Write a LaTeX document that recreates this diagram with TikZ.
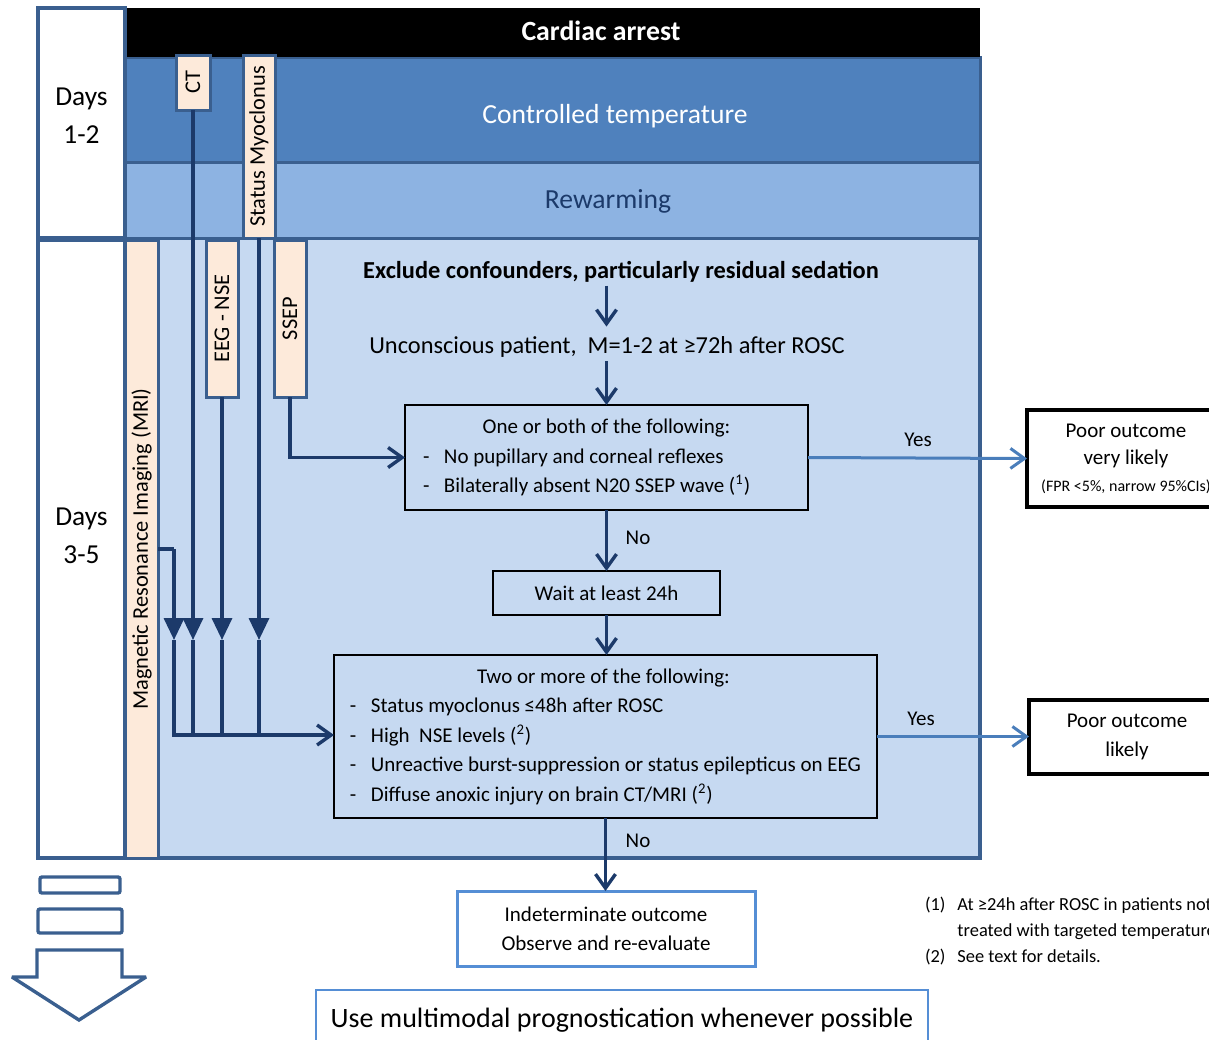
\documentclass[tikz,border=0pt]{standalone}
\usepackage{fontspec}
\setmainfont{Carlito}
\usetikzlibrary{arrows.meta}

\definecolor{frameblue}{RGB}{58,95,143}
\definecolor{ctrlblue}{RGB}{79,129,189}
\definecolor{rewarmblue}{RGB}{141,179,226}
\definecolor{paleblue}{RGB}{198,217,241}
\definecolor{peach}{RGB}{253,234,218}
\definecolor{navy}{RGB}{28,58,106}
\definecolor{yesblue}{RGB}{74,126,187}
\definecolor{lightframe}{RGB}{85,142,213}

\newcommand{\itemdash}{\makebox[10.5pt][l]{-}}

\begin{document}
\begin{tikzpicture}[x=0.5pt, y=-0.5pt]
\tikzset{ >={Straight Barb[length=7pt,width=10pt]}, inner sep=0pt, outer sep=0pt,
  stage/.style={draw=frameblue, line width=2pt},
  tag/.style={draw=frameblue, line width=1.5pt, fill=peach, font=\fontsize{11.2}{13}\selectfont},
  link/.style={navy, line width=1.7pt},
  flowbox/.style={draw=black, line width=0.8pt, font=\fontsize{10.5}{14.75}\selectfont},
  yes/.style={->, yesblue, line width=1.5pt},
  outcome/.style={draw=black, line width=2pt, fill=white, align=center},
  label/.style={font=\fontsize{10.5}{13}\selectfont},
}

\useasboundingbox (0,0) rectangle (1209,1039);
\clip (0,0) rectangle (1209,1039);

% bands and day columns
\draw [stage, fill=paleblue] (125,238) rectangle (980,858);
\draw [stage, fill=rewarmblue, line width=1.5pt] (125,162) rectangle (980,238);
\draw [stage, fill=ctrlblue, line width=1.5pt] (125,57) rectangle (980,162);
\fill [black] (125,8) rectangle (980,57);
\draw [stage, fill=white] (38,8) rectangle (125,238);
\draw [stage, fill=white] (38,240) rectangle (125,858);

\node [font=\fontsize{13.9}{16}\selectfont\bfseries, text=white] (Arrest) at (601,31) {Cardiac arrest};
\node [font=\fontsize{13.8}{16}\selectfont, text=white] (Temp) at (615,116) {Controlled temperature};
\node [font=\fontsize{13.8}{16}\selectfont, text=navy] (Rewarm) at (608,201) {Rewarming};
\node [align=center, font=\fontsize{13.7}{19}\selectfont] (Early) at (81.5,116) {Days\\1-2};
\node [align=center, font=\fontsize{13.7}{19}\selectfont] (Late) at (81.5,536) {Days\\3-5};

% tests
\node [tag, minimum width=17pt, minimum height=27.5pt] (CT) at (193,82.5) {\rotatebox{90}{CT}};
\node [tag, minimum width=16pt, minimum height=91.5pt] (Myo) at (259,146.5) {\rotatebox{90}{Status Myoclonus}};
\node [tag, minimum width=16.5pt, minimum height=309pt] (MRI) at (141.5,549) {\rotatebox{90}{Magnetic Resonance Imaging (MRI)}};
\node [tag, minimum width=16pt, minimum height=78.5pt] (EEG) at (222,318.5) {\rotatebox{90}{EEG - NSE}};
\node [tag, minimum width=16pt, minimum height=78.5pt] (SSEP) at (290,318.5) {\rotatebox{90}{SSEP}};

% algorithm
\node [font=\fontsize{12.2}{14}\selectfont\bfseries] (Excl) at (621,272) {Exclude confounders, particularly residual sedation};
\node [font=\fontsize{12.2}{15}\selectfont] (Uncon) at (607,347) {Unconscious patient,~ M=1-2 at ≥72h after ROSC};

\node [flowbox, minimum width=201.5pt, minimum height=52.5pt] (One) at (606.5,457.5)
  {\begin{tabular}{@{}l@{}}
   \makebox[183.5pt]{One or both of the following:}\\
   \itemdash No pupillary and corneal reflexes\\
   \itemdash Bilaterally absent N20 SSEP wave (\textsuperscript{1})
   \end{tabular}};
\node [flowbox, minimum width=113.5pt, minimum height=22pt] (Wait) at (606.5,593) {Wait at least 24h};
\node [flowbox, minimum width=271.5pt, minimum height=81.5pt] (Two) at (605.5,736.5)
  {\begin{tabular}{@{}l@{}}
   \makebox[253.5pt]{Two or more of the following:}\\
   \itemdash Status myoclonus ≤48h after ROSC\\
   \itemdash High~ NSE levels (\textsuperscript{2})\\
   \itemdash Unreactive burst-suppression or status epilepticus on EEG\\
   \itemdash Diffuse anoxic injury on brain CT/MRI (\textsuperscript{2})
   \end{tabular}};
\node [draw=lightframe, line width=1.5pt, fill=white, align=center, minimum width=149pt, minimum height=37.5pt,
  font=\fontsize{10.5}{14.5}\selectfont] (Indet) at (606,928.5) {Indeterminate outcome\\Observe and re-evaluate};

\node [outcome, minimum width=99pt, minimum height=48.5pt, font=\fontsize{10.5}{13.5}\selectfont] (VLikely) at (1126,458.5)
  {Poor outcome\\very likely\\{\fontsize{8}{10}\selectfont (FPR <5\%, narrow 95\%CIs)}};
\node [outcome, minimum width=98pt, minimum height=37pt, font=\fontsize{10.5}{14.5}\selectfont] (Likely) at (1127,737)
  {Poor outcome\\likely};

\node [label] (Yes1) at (918,440) {Yes};
\node [label] (Yes2) at (921,719) {Yes};
\node [label] (No1) at (638,538) {No};
\node [label] (No2) at (638,841) {No};

\draw [link, ->, shorten <=1.5pt, shorten >=5pt] (Excl.south -| One.north) -- (Uncon.north -| One.north);
\draw [link, ->, shorten <=2pt] (Uncon.south -| One.north) -- (One.north);
\draw [link, ->] (One.south) -- (Wait.north);
\draw [link, ->] (Wait.south) -- (Wait.south |- Two.north);
\draw [link, ->] (Two.south) -- (Two.south |- Indet.north);
\draw [yes] (One.east) -- (VLikely.west);
\draw [yes] (Two.east) -- (Two.east -| Likely.west);

% test lines into the second box
\coordinate (Tip) at (0,640);
\coordinate (Bus) at (0,735);
\coordinate (MriBend) at (174,549);

\draw [link, -{Triangle[width=10pt,length=11pt]}] (CT.south) -- (CT.south |- Tip);
\draw [link] (CT.south |- Tip) -- (CT.south |- Bus);
\draw [link, -{Triangle[width=10pt,length=11pt]}] (Myo.south) -- (Myo.south |- Tip);
\draw [link] (Myo.south |- Tip) -- (Myo.south |- Bus);
\draw [link, -{Triangle[width=10pt,length=11pt]}] (EEG.south) -- (EEG.south |- Tip);
\draw [link] (EEG.south |- Tip) -- (EEG.south |- Bus);
\draw [link] (MRI.east) -- (MriBend);
\draw [link, -{Triangle[width=10pt,length=11pt]}] (MriBend) -- (MriBend |- Tip);
\draw [link, ->] (MriBend |- Tip) -- (MriBend |- Bus) -- (Two.west |- Bus);
\draw [link, ->] (SSEP.south) |- (One.west);

\node [draw=lightframe, line width=1pt, minimum width=306pt, minimum height=30pt,
  font=\fontsize{14}{17}\selectfont] (Multi) at (622,1020) {Use multimodal prognostication whenever possible};

\node [anchor=west, font=\fontsize{9.2}{13}\selectfont] (Notes) at (925,931)
  {\begin{tabular}{@{}l@{\hspace{6pt}}l@{}}
   (1) & At ≥24h after ROSC in patients not\\
       & treated with targeted temperature\\
   (2) & See text for details.
   \end{tabular}};

% time arrow
\draw [frameblue, line width=1.7pt, rounded corners=1pt] (40,877) rectangle (120,893);
\draw [frameblue, line width=1.7pt, rounded corners=1pt] (38,909) rectangle (122,933);
\draw [frameblue, line width=1.7pt, miter limit=2] (37,950) -- (122,950) -- (122,977) -- (146,977) -- (79,1020) -- (12,977) -- (37,977) -- cycle;

\end{tikzpicture}
\end{document}
